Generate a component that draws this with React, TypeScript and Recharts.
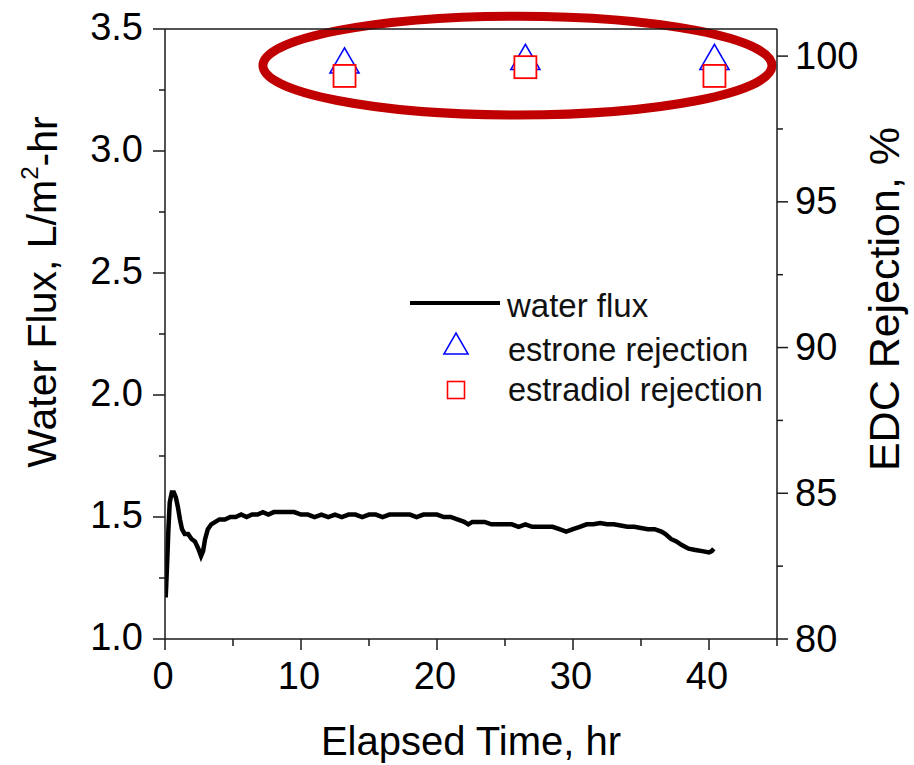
import React from "react";
import {
  ComposedChart,
  Line,
  Scatter,
  XAxis,
  YAxis,
  ReferenceArea,
  ReferenceLine,
  Legend,
  Label,
} from "recharts";

const FONT = '"Liberation Sans", Arial, Helvetica, sans-serif';

// Water flux trace (elapsed time, hr / flux, L/m2-hr)
const timeHr = [
  0.05, 0.15, 0.25, 0.35, 0.5, 0.65, 0.8, 0.95, 1.1, 1.25, 1.45, 1.7, 1.95, 2.2, 2.45, 2.65, 2.8, 2.95,
  3.15, 3.4, 3.7, 4.0, 4.4, 4.8, 5.2, 5.6, 6.0, 6.4, 6.8, 7.2, 7.6, 8.0, 8.5, 9.0, 9.5, 10.0, 10.5,
  11.0, 11.5, 12.0, 12.5, 13.0, 13.5, 14.0, 14.5, 15.0, 15.5, 16.0, 16.5, 17.0, 17.5, 18.0, 18.5,
  19.0, 19.5, 20.0, 20.5, 21.0, 21.5, 22.0, 22.3, 22.6, 23.0, 23.5, 24.0, 24.5, 25.0, 25.5, 26.0,
  26.5, 27.0, 27.5, 28.0, 28.5, 29.0, 29.5, 30.0, 30.5, 31.0, 31.5, 32.0, 32.5, 33.0, 33.5, 34.0,
  34.5, 35.0, 35.5, 36.0, 36.5, 36.8, 37.2, 37.6, 38.0, 38.5, 39.0, 39.5, 40.0, 40.2, 40.35,
];
const waterFlux = [
  1.17, 1.3, 1.45, 1.56, 1.6, 1.6, 1.58, 1.54, 1.49, 1.45, 1.43, 1.43, 1.41, 1.4, 1.37, 1.34, 1.36, 1.41,
  1.45, 1.47, 1.48, 1.49, 1.49, 1.5, 1.5, 1.51, 1.5, 1.51, 1.51, 1.52, 1.51, 1.52, 1.52, 1.52, 1.52, 1.51, 1.51,
  1.5, 1.51, 1.5, 1.51, 1.5, 1.51, 1.51, 1.5, 1.51, 1.51, 1.5, 1.51, 1.51, 1.51, 1.51, 1.5,
  1.51, 1.51, 1.51, 1.5, 1.5, 1.49, 1.48, 1.47, 1.48, 1.48, 1.48, 1.47, 1.47, 1.47, 1.47, 1.46,
  1.47, 1.46, 1.46, 1.46, 1.46, 1.45, 1.44, 1.45, 1.46, 1.47, 1.47, 1.475, 1.47, 1.47, 1.465, 1.46,
  1.46, 1.455, 1.45, 1.45, 1.44, 1.43, 1.41, 1.4, 1.385, 1.37, 1.365, 1.36, 1.355, 1.36, 1.37,
];

// Rejection samples
const sampleTimes = [13.2, 26.5, 40.4];
const estroneRejection = [99.71, 99.83, 99.83];
const estradiolRejection = [99.32, 99.62, 99.32];

// Axis ticks
const xTicks = [0, 5, 10, 15, 20, 25, 30, 35, 40, 45];
const leftTicks = [1.0, 1.25, 1.5, 1.75, 2.0, 2.25, 2.5, 2.75, 3.0, 3.25, 3.5];
const rightTicks = [80, 82.5, 85, 87.5, 90, 92.5, 95, 97.5, 100];

// Highlight ellipse extents (x in hr, y in %)
const ellipseX = [7.2, 44.63];
const ellipseY = [97.98, 101.37];

const fluxData = timeHr.map((t, i) => ({ t, v: waterFlux[i] }));
const estroneData = sampleTimes.map((t, i) => ({ t, r: estroneRejection[i] }));
const estradiolData = sampleTimes.map((t, i) => ({ t, r: estradiolRejection[i] }));

const AXIS = "#1a1a1a";

const XTick = (props: any) => {
  const { x, y, payload } = props;
  const major = payload.value % 10 === 0;
  return (
    <g>
      <line x1={x} y1={y} x2={x} y2={y + (major ? 11 : 7)} stroke={AXIS} strokeWidth={1.5} />
      {major && (
        <text x={x - 2} y={y + 50} textAnchor="middle" fontSize={38} fontFamily={FONT} fill="#000">
          {payload.value}
        </text>
      )}
    </g>
  );
};

const LeftTick = (props: any) => {
  const { x, y, payload } = props;
  const major = Math.abs(payload.value * 2 - Math.round(payload.value * 2)) < 1e-6;
  return (
    <g>
      <line x1={x} y1={y} x2={x - (major ? 12 : 6)} y2={y} stroke={AXIS} strokeWidth={1.5} />
      {major && (
        <text x={x - 22} y={y} dy="0.3em" textAnchor="end" fontSize={38} fontFamily={FONT} fill="#000">
          {payload.value.toFixed(1)}
        </text>
      )}
    </g>
  );
};

const RightTick = (props: any) => {
  const { x, y, payload } = props;
  const major = payload.value % 5 === 0;
  return (
    <g>
      <line x1={x} y1={y} x2={x + (major ? 11 : 6)} y2={y} stroke={AXIS} strokeWidth={1.5} />
      {major && (
        <text x={x + 18} y={y} dy="0.33em" textAnchor="start" fontSize={38} fontFamily={FONT} fill="#000">
          {payload.value}
        </text>
      )}
    </g>
  );
};

const triPoints = (cx: number, cy: number, side: number) => {
  const h = (side * Math.sqrt(3)) / 2;
  return `${cx},${cy - (2 * h) / 3} ${cx - side / 2},${cy + h / 3} ${cx + side / 2},${cy + h / 3}`;
};

const TriangleShape = (props: any) => {
  const { cx, cy } = props;
  return <polygon points={triPoints(cx, cy, 29)} fill="#fff" stroke="#0000ff" strokeWidth={1.6} />;
};

const SquareShape = (props: any) => {
  const { cx, cy } = props;
  const s = 22;
  return <rect x={cx - s / 2} y={cy - s / 2} width={s} height={s} fill="#fff" stroke="#ff0000" strokeWidth={1.8} />;
};

const EllipseShape = (props: any) => {
  const { x, y, width, height } = props;
  return (
    <ellipse
      cx={x + width / 2}
      cy={y + height / 2}
      rx={Math.abs(width) / 2}
      ry={Math.abs(height) / 2}
      fill="none"
      stroke="#c00000"
      strokeWidth={9}
    />
  );
};

const LegendBox = () => (
  <svg width={390} height={140} style={{ display: "block", overflow: "visible" }}>
    <line x1={15} y1={23} x2={105} y2={23} stroke="#000" strokeWidth={4} />
    <text x={112} y={25} dy="0.35em" fontSize={33} fontFamily={FONT} fill="#111">
      water flux
    </text>
    <polygon points={triPoints(61, 67, 24)} fill="#fff" stroke="#0000ff" strokeWidth={1.6} />
    <text x={113} y={70} dy="0.35em" fontSize={32.5} fontFamily={FONT} fill="#111">
      estrone rejection
    </text>
    <rect x={61 - 8.5} y={110 - 8.5} width={17} height={17} fill="#fff" stroke="#ff0000" strokeWidth={1.6} />
    <text x={113} y={110} dy="0.35em" fontSize={32.5} fontFamily={FONT} fill="#111">
      estradiol rejection
    </text>
  </svg>
);

const LeftTitle = (props: any) => {
  const cx = 42;
  const cy = 292;
  return (
    <text
      x={cx}
      y={cy}
      transform={`rotate(-90, ${cx}, ${cy})`}
      textAnchor="middle"
      dy="0.35em"
      fontSize={41}
      fontFamily={FONT}
      fill="#000"
    >
      Water Flux, L/m
      <tspan fontSize={24} dy="-0.75em">2</tspan>
      <tspan dy="0.45em">-hr</tspan>
    </text>
  );
};

const RightTitle = (props: any) => {
  const cx = 884;
  const cy = 299;
  return (
    <text
      x={cx}
      y={cy}
      transform={`rotate(-90, ${cx}, ${cy})`}
      textAnchor="middle"
      dy="0.35em"
      fontSize={43}
      fontFamily={FONT}
      fill="#000"
    >
      EDC Rejection, %
    </text>
  );
};

const BottomTitle = (props: any) => (
  <text x={471} y={755} textAnchor="middle" fontSize={40} fontFamily={FONT} fill="#000">
    Elapsed Time, hr
  </text>
);

export default function App() {
  return (
    <div style={{ position: "absolute", left: 0, top: 0, width: 914, height: 765, background: "#fff" }}>
      <ComposedChart width={914} height={765} margin={{ top: 29, right: 0, bottom: 0, left: 0 }}>
        <XAxis
          dataKey="t"
          type="number"
          domain={[0, 45]}
          ticks={xTicks}
          interval={0}
          allowDataOverflow
          height={126}
          tickSize={0}
          tickMargin={0}
          tickLine={false}
          axisLine={{ stroke: AXIS, strokeWidth: 1.5 }}
          tick={<XTick />}
        >
          <Label content={<BottomTitle />} />
        </XAxis>
        <YAxis
          yAxisId="left"
          orientation="left"
          type="number"
          domain={[1.0, 3.5]}
          ticks={leftTicks}
          interval={0}
          allowDataOverflow
          width={165}
          tickSize={0}
          tickMargin={0}
          tickLine={false}
          axisLine={{ stroke: AXIS, strokeWidth: 1.5 }}
          tick={<LeftTick />}
        >
          <Label content={<LeftTitle />} />
        </YAxis>
        <YAxis
          yAxisId="right"
          orientation="right"
          type="number"
          domain={[80, 100.93]}
          ticks={rightTicks}
          interval={0}
          allowDataOverflow
          width={137}
          tickSize={0}
          tickMargin={0}
          tickLine={false}
          axisLine={{ stroke: AXIS, strokeWidth: 1.5 }}
          tick={<RightTick />}
        >
          <Label content={<RightTitle />} />
        </YAxis>
        <ReferenceLine yAxisId="left" y={3.5} stroke={AXIS} strokeWidth={1.5} />
        <Line
          yAxisId="left"
          data={fluxData}
          dataKey="v"
          type="linear"
          stroke="#000"
          strokeWidth={4.5}
          dot={false}
          activeDot={false}
          isAnimationActive={false}
          legendType="none"
        />
        <Scatter
          yAxisId="right"
          data={estroneData}
          dataKey="r"
          shape={<TriangleShape />}
          isAnimationActive={false}
        />
        <Scatter
          yAxisId="right"
          data={estradiolData}
          dataKey="r"
          shape={<SquareShape />}
          isAnimationActive={false}
        />
        <ReferenceArea
          yAxisId="right"
          x1={ellipseX[0]}
          x2={ellipseX[1]}
          y1={ellipseY[0]}
          y2={ellipseY[1]}
          ifOverflow="visible"
          shape={<EllipseShape />}
        />
        <Legend
          layout="vertical"
          align="center"
          verticalAlign="middle"
          wrapperStyle={{ left: 395, top: 280, width: 390, height: 140 }}
          content={<LegendBox />}
        />
      </ComposedChart>
    </div>
  );
}
